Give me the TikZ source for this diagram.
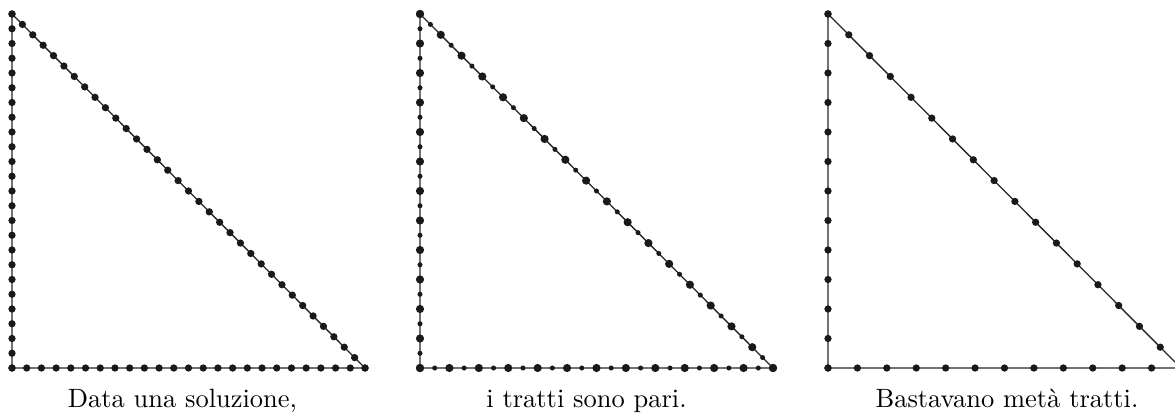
\documentclass[tikz,border=0pt]{standalone}
\usetikzlibrary{calc}
\begin{document}
\begin{tikzpicture}[x=0.378pt,y=-0.378pt,
  edge/.style={line width=0.5pt, black!85},
  bigdot/.style={fill=black!90},
  caption/.style={anchor=base, inner sep=0pt, font=\fontsize{10}{12}\selectfont}]
\useasboundingbox (0,0) rectangle (1175,412);
\clip (0,0) rectangle (1175,412);
% Triangle 1
\coordinate (A1) at (12,14);
\coordinate (B1) at (12,368);
\coordinate (C1) at (365,368);
\draw[edge] (A1) -- (B1) -- (C1) -- cycle;
\foreach \i in {0,...,24}{
  \fill[bigdot] ($(A1)!\i/24!(B1)$) circle[radius=1.38pt];
  \fill[bigdot] ($(B1)!\i/24!(C1)$) circle[radius=1.38pt];
}
\foreach \i in {0,...,34}{
  \fill[bigdot] ($(C1)!\i/34!(A1)$) circle[radius=1.38pt];
}
% Triangle 2
\coordinate (A2) at (420,14);
\coordinate (B2) at (420,368);
\coordinate (C2) at (773,368);
\draw[edge] (A2) -- (B2) -- (C2) -- cycle;
\foreach \i in {0,...,24}{
  \pgfmathsetmacro{\r}{isodd(\i) ? 0.95 : 1.55}
  \fill[bigdot] ($(A2)!\i/24!(B2)$) circle[radius=\r pt];
  \fill[bigdot] ($(B2)!\i/24!(C2)$) circle[radius=\r pt];
}
\foreach \i in {0,...,34}{
  \pgfmathsetmacro{\r}{isodd(\i) ? 0.95 : 1.55}
  \fill[bigdot] ($(A2)!\i/34!(C2)$) circle[radius=\r pt];
}
% Triangle 3
\coordinate (A3) at (828,14);
\coordinate (B3) at (828,368);
\coordinate (C3) at (1181,368);
\draw[edge] (A3) -- (B3) -- (C3) -- cycle;
\foreach \i in {0,...,12}{
  \fill[bigdot] ($(A3)!\i/12!(B3)$) circle[radius=1.38pt];
  \fill[bigdot] ($(B3)!\i/12!(C3)$) circle[radius=1.38pt];
}
\foreach \i in {0,...,17}{
  \fill[bigdot] ($(A3)!\i/17!(C3)$) circle[radius=1.38pt];
}
% Captions
\node[caption] (t1) at (182.5,407) {Data una soluzione,};
\node[caption] (t2) at (586.5,407) {i tratti sono pari.};
\node[caption] (t3) at (1007,407) {Bastavano metà tratti.};
\end{tikzpicture}
\end{document}
